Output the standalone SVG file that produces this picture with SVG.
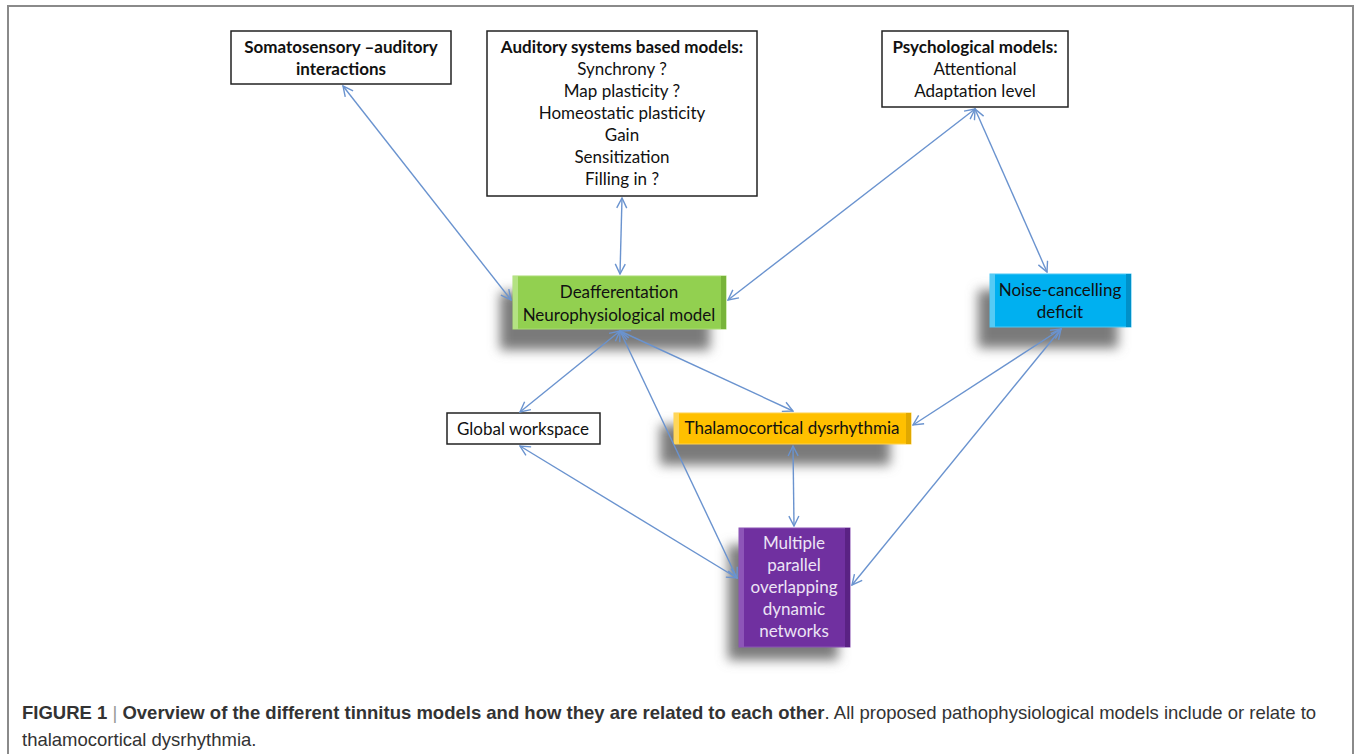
<svg xmlns="http://www.w3.org/2000/svg" width="1356" height="754" viewBox="0 0 1356 754">
<defs>
<style>
.box{fill:#fff;stroke:#222;stroke-width:1.5}
.t{font-family:Lato,"Open Sans","Liberation Sans",sans-serif;font-size:17px;fill:#111;text-anchor:middle}
.b{font-weight:bold}
.c{stroke:#6a93cf;stroke-width:1.4;fill:none;marker-start:url(#ah);marker-end:url(#ah)}
.cap{font-family:"Liberation Sans",Arial,sans-serif;font-size:18.5px;fill:#333}
.sh{fill:#7a7a7a;filter:url(#blur)}
</style>
<marker id="ah" viewBox="0 0 12 12" refX="11" refY="6" markerWidth="12" markerHeight="12" markerUnits="userSpaceOnUse" orient="auto-start-reverse">
<path d="M1,1 L11,6 L1,11" fill="none" stroke="#6a93cf" stroke-width="1.4"/>
</marker>
<filter id="blur" x="-30%" y="-50%" width="160%" height="200%"><feGaussianBlur stdDeviation="6"/></filter>
</defs>
<rect x="8" y="6" width="1345" height="770" fill="#fff" stroke="#8a8a8a" stroke-width="2"/>

<g id="somatosensory">
<rect class="box" x="231" y="31" width="220" height="53"/>
<text class="t b" x="341" y="53">Somatosensory –auditory</text>
<text class="t b" x="341" y="75">interactions</text>
</g>

<g id="auditory">
<rect class="box" x="487" y="31" width="270" height="165"/>
<text class="t b" x="622" y="53">Auditory systems based models:</text>
<text class="t" x="622" y="75">Synchrony ?</text>
<text class="t" x="622" y="97">Map plasticity ?</text>
<text class="t" x="622" y="119">Homeostatic plasticity</text>
<text class="t" x="622" y="141">Gain</text>
<text class="t" x="622" y="163">Sensitization</text>
<text class="t" x="622" y="185">Filling in ?</text>
</g>

<g id="psychological">
<rect class="box" x="882" y="31" width="186" height="76"/>
<text class="t b" x="975" y="53">Psychological models:</text>
<text class="t" x="975" y="75">Attentional</text>
<text class="t" x="975" y="97">Adaptation level</text>
</g>

<g id="deafferentation">
<rect class="sh" x="500" y="292" width="210" height="58"/>
<rect x="513" y="276" width="213" height="53" fill="#92d050" stroke="#a9dc72" stroke-width="1"/>
<rect x="513" y="276" width="5" height="53" fill="#b4e283"/>
<rect x="721" y="276" width="5" height="53" fill="#78b43a"/>
<text class="t" x="619" y="298">Deafferentation</text>
<text class="t" x="619" y="321">Neurophysiological model</text>
</g>

<g id="noise">
<rect class="sh" x="978" y="290" width="140" height="58"/>
<rect x="990" y="274" width="141" height="53" fill="#00b0f0" stroke="#4cc8f5" stroke-width="1"/>
<rect x="990" y="274" width="5" height="53" fill="#55cbf5"/>
<rect x="1126" y="274" width="5" height="53" fill="#0090c8"/>
<text class="t" x="1060" y="296">Noise-cancelling</text>
<text class="t" x="1060" y="318">deficit</text>
</g>

<g id="global">
<rect class="box" x="447" y="413" width="153" height="31"/>
<text class="t" x="523" y="435">Global workspace</text>
</g>

<g id="thalamocortical">
<rect class="sh" x="660" y="425" width="230" height="40"/>
<rect x="674" y="413" width="237" height="31" fill="#ffc000" stroke="#ffd24c" stroke-width="1"/>
<rect x="674" y="413" width="5" height="31" fill="#ffd659"/>
<rect x="906" y="413" width="5" height="31" fill="#e0a800"/>
<text class="t" x="792" y="434">Thalamocortical dysrhythmia</text>
</g>

<g id="multiple">
<rect class="sh" x="728" y="545" width="110" height="115"/>
<rect x="739" y="528" width="111" height="119" fill="#7030a0" stroke="#8a52b4" stroke-width="1"/>
<rect x="739" y="528" width="5" height="119" fill="#8d55b8"/>
<rect x="845" y="528" width="5" height="119" fill="#5a2284"/>
<text class="t" x="794" y="549" style="fill:#ece4f5">Multiple</text>
<text class="t" x="794" y="571" style="fill:#ece4f5">parallel</text>
<text class="t" x="794" y="593" style="fill:#ece4f5">overlapping</text>
<text class="t" x="794" y="615" style="fill:#ece4f5">dynamic</text>
<text class="t" x="794" y="637" style="fill:#ece4f5">networks</text>
</g>

<g id="connectors">
<line class="c" x1="343" y1="86" x2="511" y2="300"/>
<line class="c" x1="622" y1="198" x2="620" y2="274"/>
<line class="c" x1="975" y1="109" x2="728" y2="300"/>
<line class="c" x1="975" y1="109" x2="1047" y2="272"/>
<line class="c" x1="620" y1="331" x2="520" y2="412"/>
<line class="c" x1="620" y1="331" x2="793" y2="411"/>
<line class="c" x1="620" y1="331" x2="737" y2="578"/>
<line class="c" x1="520" y1="446" x2="737" y2="578"/>
<line class="c" x1="793" y1="446" x2="794" y2="526"/>
<line class="c" x1="1061" y1="329" x2="913" y2="425"/>
<line class="c" x1="1061" y1="329" x2="852" y2="585"/>
</g>

<g id="caption">
<text class="cap" x="22" y="719"><tspan font-weight="bold">FIGURE 1</tspan> <tspan fill="#999">|</tspan> <tspan font-weight="bold">Overview of the different tinnitus models and how they are related to each other</tspan>. All proposed pathophysiological models include or relate to</text>
<text class="cap" x="22" y="746">thalamocortical dysrhythmia.</text>
</g>
</svg>
